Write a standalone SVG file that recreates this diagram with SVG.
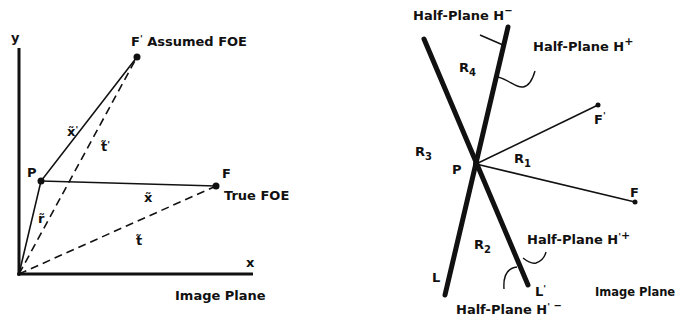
<svg xmlns="http://www.w3.org/2000/svg" width="680" height="326" viewBox="0 0 680 326">
<style>
text{font-family:"DejaVu Sans","Liberation Sans",sans-serif;font-weight:bold;font-size:13px;fill:#111}
text.sm{font-size:11.5px}
.ax{stroke:#111;stroke-width:3;fill:none}
.s{stroke:#111;stroke-width:1.6;fill:none}
.d{stroke:#111;stroke-width:1.6;fill:none;stroke-dasharray:8,5}
.th{stroke:#111;stroke-width:5;fill:none;stroke-linecap:round}
.t{stroke:#111;stroke-width:1.4;fill:none}
.dot{fill:#111}
</style>
<rect width="680" height="326" fill="#fff"/>
<g id="connectors">
<path class="ax" d="M19,48 V274 H253"/>
<path class="s" d="M19,274 L41,181 L137,57"/>
<path class="s" d="M41,181 L216,186"/>
<path class="d" d="M19,274 L137,57"/>
<path class="d" d="M19,274 L216,186"/>
<path class="th" d="M424,39 L528,285"/>
<path class="th" d="M445,295 L508,27"/>
<path class="s" d="M476,164 L598,105"/>
<path class="s" d="M476,164 L635,202"/>
<path class="t" d="M480,35 L503,45"/>
<path class="t" d="M498,77 C510,80 515,88 523,87 C530,86 533,78 535,71"/>
<path class="t" d="M523,258 C528,262 532,264 536,263 C542,261 545,256 546,252"/>
<path class="t" d="M517,267 C508,268 503,275 504,289"/>
</g>
<g id="node-origin"><circle class="dot" cx="19" cy="274" r="2"/></g>
<g id="node-P"><circle class="dot" cx="41" cy="181" r="3.5"/><text x="27" y="177">P</text></g>
<g id="node-Fprime"><circle class="dot" cx="137" cy="57" r="3.5"/><text x="131" y="46">F<tspan font-size="9" dy="-4">'</tspan><tspan dy="4"> Assumed FOE</tspan></text></g>
<g id="node-F"><circle class="dot" cx="216" cy="186" r="3.5"/><text x="222" y="178">F</text><text x="224" y="200">True FOE</text></g>
<g id="labels-left">
<text x="11" y="42">y</text>
<text x="246" y="267">x</text>
<text x="175" y="300">Image Plane</text>
<text x="67" y="136">x̃<tspan font-size="9" dy="-3">'</tspan></text>
<text x="101" y="151">t̃<tspan font-size="9" dy="-3">'</tspan></text>
<text x="144" y="202">x̃</text>
<text x="38" y="223">r̃</text>
<text x="136" y="245">t̃</text>
</g>
<g id="node-P2"><circle class="dot" cx="476" cy="164" r="3"/><text x="452" y="174">P</text></g>
<g id="node-F2prime"><circle class="dot" cx="598" cy="105" r="2.5"/><text x="594" y="124">F<tspan font-size="9" dy="-5">'</tspan></text></g>
<g id="node-F2"><circle class="dot" cx="635" cy="202" r="2.5"/><text x="630" y="197">F</text></g>
<g id="labels-right">
<text x="413" y="20">Half-Plane H<tspan font-size="10" dy="-6">−</tspan></text>
<text x="533" y="51">Half-Plane H<tspan font-size="11" dy="-6">+</tspan></text>
<text x="459" y="72">R<tspan font-size="10" dy="4">4</tspan></text>
<text x="415" y="156">R<tspan font-size="10" dy="4">3</tspan></text>
<text x="514" y="163">R<tspan font-size="10" dy="4">1</tspan></text>
<text x="474" y="249">R<tspan font-size="10" dy="4">2</tspan></text>
<text x="527" y="244">Half-Plane H<tspan font-size="9" dy="-4">'</tspan><tspan font-size="11" dy="-1">+</tspan></text>
<text x="432" y="282">L</text>
<text x="535" y="296">L<tspan font-size="9" dy="-4">'</tspan></text>
<text class="sm" x="595" y="296">Image Plane</text>
<text x="456" y="314">Half-Plane H<tspan font-size="9" dy="-4">'</tspan><tspan font-size="10" dy="-1"> −</tspan></text>
</g>
</svg>
